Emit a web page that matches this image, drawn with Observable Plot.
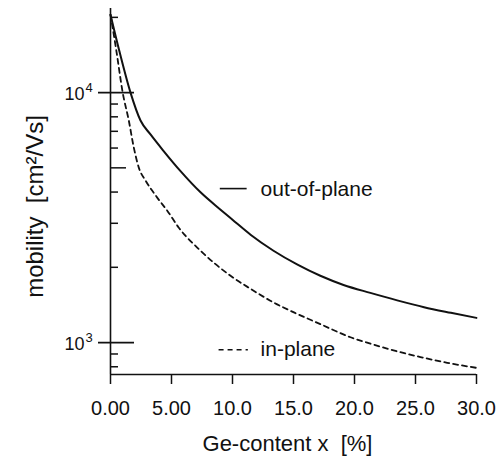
<!DOCTYPE html>
<html>
<head>
<meta charset="utf-8">
<script src="https://cdn.jsdelivr.net/npm/d3@7"></script>
<script src="https://cdn.jsdelivr.net/npm/@observablehq/plot@0.6"></script>
<style>
  body { margin: 0; background: #fff; }
  svg text { white-space: pre; }
</style>
</head>
<body>
<div id="chart"></div>
<script>
// Ge content x [%] and mobility [cm^2/Vs]
const outX = [0, 0.72, 1.64, 2.46, 3.28, 4.34, 5.74, 7.38, 9.02, 10.0, 11.48, 13.36, 15.33, 17.2, 19.1, 21.3, 23.5, 25.7, 27.9, 30];
const outMob = [20500, 14700, 10000, 7730, 6800, 5850, 4850, 3990, 3400, 3100, 2700, 2330, 2050, 1850, 1700, 1580, 1475, 1385, 1315, 1255];

const inX = [0, 0.48, 1.0, 1.5, 1.91, 2.32, 2.87, 3.83, 4.65, 5.6, 7.38, 9.84, 11.48, 13.1, 15.33, 17.2, 19.67, 21.3, 23.2, 25.4, 27.6, 30];
const inMob = [20500, 14700, 10000, 7730, 6030, 5010, 4450, 3800, 3370, 2880, 2330, 1850, 1640, 1470, 1300, 1185, 1050, 990, 930, 875, 830, 792];

const xTicks = [0, 5, 10, 15, 20, 25, 30];
const xTickLabels = ["0.00", "5.00", "10.0", "15.0", "20.0", "25.0", "30.0"];
const yMajor = [1000, 10000];
const yMajorBase = ["10", "10"];
const yMajorExp = ["3", "4"];
const yMid = [5000];
const yMinor = [800, 900, 2000, 3000, 4000, 6000, 7000, 8000, 9000, 20000];
const xLabel = "Ge-content x\u00a0 [%]";
const yLabel = "mobility\u00a0 [cm\u00b2/Vs]";
const seriesNames = ["out-of-plane", "in-plane"];

const outData = outX.map((x, i) => ({x, m: outMob[i]}));
const inData = inX.map((x, i) => ({x, m: inMob[i]}));
const yMin = 745, yMax = 21700;
const ink = "#111";

const plot = Plot.plot({
  width: 501,
  height: 457,
  marginLeft: 110,
  marginRight: 25,
  marginTop: 8,
  marginBottom: 83,
  x: {domain: [0, 30]},
  y: {type: "log", domain: [yMin, yMax], axis: null},
  style: {fontFamily: "'Liberation Sans', Arial, Helvetica, sans-serif", background: "#fff", color: ink},
  marks: [
    // axes lines
    Plot.ruleX([0], {stroke: ink, strokeWidth: 1.6}),
    Plot.ruleY([yMin], {stroke: ink, strokeWidth: 1.6}),
    // x axis ticks and labels
    Plot.axisX(xTicks, {
      tickSize: 10,
      tickPadding: 16,
      strokeWidth: 1.5,
      fontSize: 20,
      tickFormat: (d) => xTickLabels[xTicks.indexOf(d)],
      label: null,
      fill: ink,
      stroke: ink
    }),
    Plot.text([xLabel], {frameAnchor: "bottom", lineAnchor: "middle", textAnchor: "middle", dy: 69, dx: -6, fontSize: 22, fill: ink}),
    // y ticks
    Plot.ruleY(yMinor, {stroke: ink, strokeWidth: 1.5, insetRight: 358}),
    Plot.ruleY(yMid, {stroke: ink, strokeWidth: 1.5, insetRight: 350}),
    Plot.ruleY(yMajor, {stroke: ink, strokeWidth: 1.8, insetLeft: -12, insetRight: 342}),
    Plot.text(yMajor, {y: d => d, text: (d, i) => yMajorBase[i], frameAnchor: "left", textAnchor: "end", dx: -26, dy: 2, fontSize: 18, fill: ink}),
    Plot.text(yMajor, {y: d => d, text: (d, i) => yMajorExp[i], frameAnchor: "left", textAnchor: "start", dx: -25, dy: -5, fontSize: 13, fill: ink}),
    Plot.text([yLabel], {frameAnchor: "left", textAnchor: "middle", lineAnchor: "middle", rotate: -90, dx: -75, dy: 15, fontSize: 24, fill: ink}),
    // curves
    Plot.line(outData, {x: "x", y: "m", stroke: ink, strokeWidth: 2, curve: "monotone-x"}),
    Plot.line(inData, {x: "x", y: "m", stroke: ink, strokeWidth: 1.8, strokeDasharray: "5,4", curve: "monotone-x"}),
    // legend
    Plot.ruleY([4130], {x1: 9.0, x2: 11.2, stroke: ink, strokeWidth: 1.6}),
    Plot.text([seriesNames[0]], {x: 12.3, y: 4130, textAnchor: "start", dy: 1, fontSize: 21, fill: ink}),
    Plot.ruleY([935], {x1: 8.9, x2: 11.3, stroke: ink, strokeWidth: 1.5, strokeDasharray: "5,4"}),
    Plot.text([seriesNames[1]], {x: 12.3, y: 935, textAnchor: "start", dy: -1, fontSize: 21, fill: ink})
  ]
});
document.getElementById("chart").appendChild(plot);
</script>
</body>
</html>
